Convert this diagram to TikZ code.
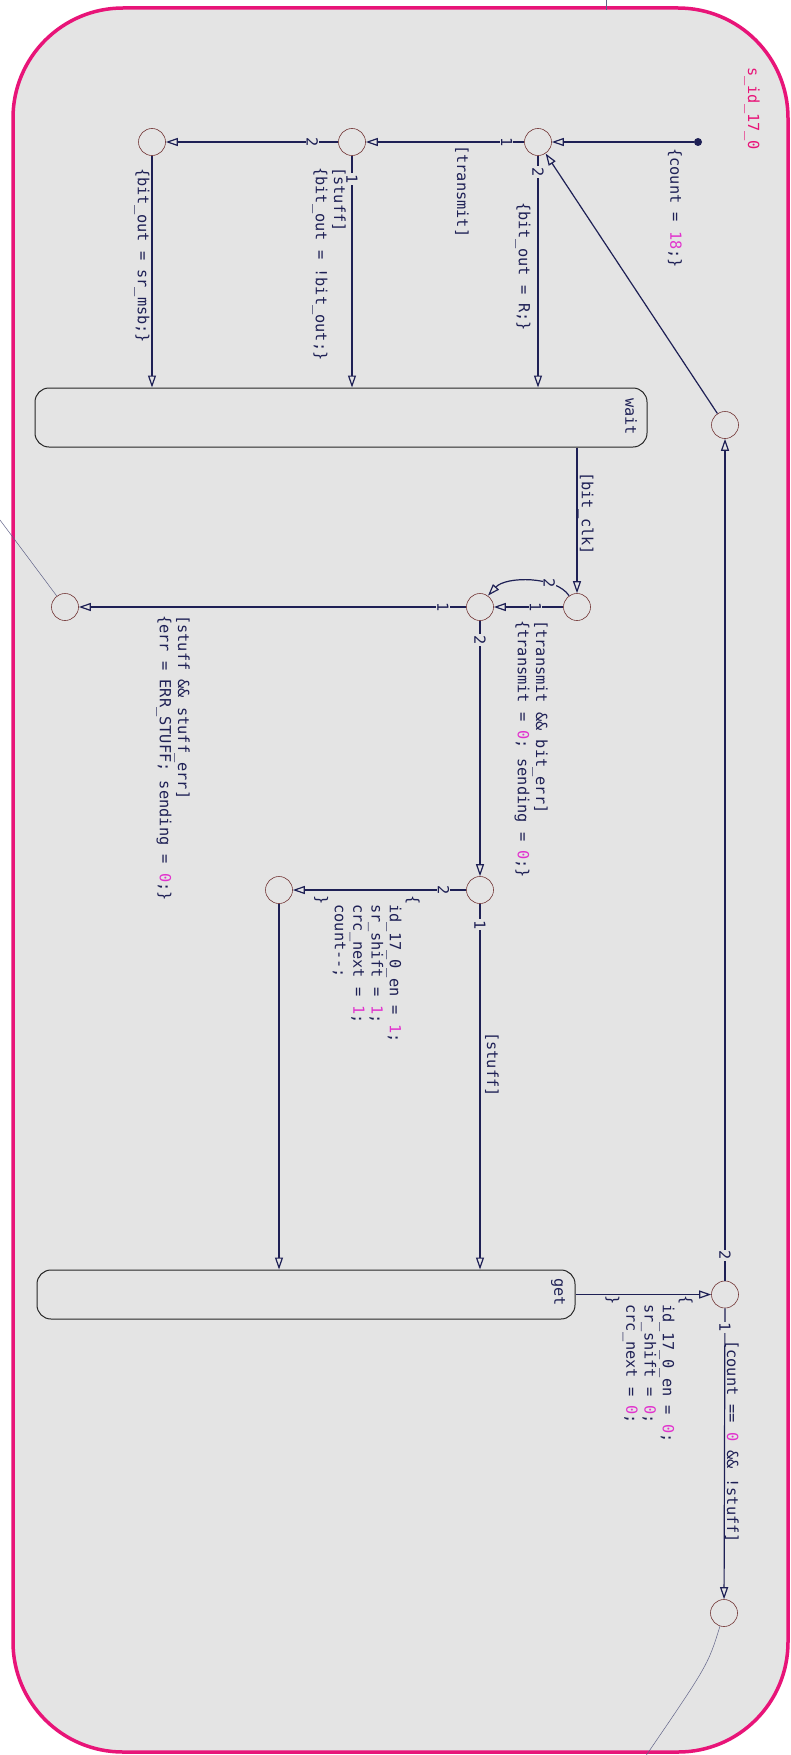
\documentclass[tikz,border=0pt]{standalone}
\usepackage{xcolor}
\usepackage{fontspec}
\usepackage{tikz}
\usetikzlibrary{arrows.meta}

\newfontfamily\chartfont{DejaVu Sans Mono}
\definecolor{chartbg}{RGB}{228,228,228}
\definecolor{chartpink}{RGB}{232,20,120}
\definecolor{numpink}{RGB}{225,50,205}
\definecolor{trcol}{RGB}{30,32,85}
\definecolor{juncol}{RGB}{115,55,55}
\newcommand{\pk}[1]{\textcolor{numpink}{#1}}

\begin{document}
\begin{tikzpicture}[x=1pt,y=-1pt,
    every node/.style={font=\chartfont\fontsize{15.3}{18.3}\selectfont},
    junc/.style={circle,draw=juncol,line width=0.6pt,fill=chartbg,minimum size=27pt,inner sep=0pt},
    state/.style={draw=black!85,line width=1pt,rounded corners=14pt,fill=chartbg},
    tr/.style={draw=trcol,line width=1.2pt,-{Triangle[open,length=12pt,width=8pt]}},
    extline/.style={draw=trcol!70,line width=0.5pt},
    lbl/.style={text=trcol,rotate=-90,anchor=west,inner sep=0pt},
    blk/.style={text=trcol,rotate=-90,anchor=north west,align=left,inner sep=0pt},
    ord/.style={text=trcol,rotate=-90,fill=chartbg,inner sep=1pt}]
    \useasboundingbox (0,0) rectangle (791,1755);
    \fill[white] (0,0) rectangle (791,1755);
    \draw[chartpink,line width=3.5pt,fill=chartbg,rounded corners=110pt] (13,8) rectangle (788,1752);
    \node[text=chartpink,rotate=-90,anchor=west,inner sep=0pt] (chartname) at (752,67) {s\_id\_17\_0};

    % states
    \node[state,minimum width=612pt,minimum height=59pt] (wait) at (341,417.5) {};
    \node[state,minimum width=538pt,minimum height=49pt] (get) at (306,1294.5) {};
    \node[lbl] (waitname) at (631,398) {wait};
    \node[lbl] (getname) at (558,1278) {get};

    % junctions
    \node[circle,fill=trcol,inner sep=0pt,minimum size=8pt] (init) at (698,142) {};
    \node[junc] (j1) at (538,142) {};
    \node[junc] (j2) at (352,142) {};
    \node[junc] (j3) at (152,142) {};
    \node[junc] (jw) at (577,607) {};
    \node[junc] (jt) at (480,607) {};
    \node[junc] (je) at (65,607) {};
    \node[junc] (js) at (480,890) {};
    \node[junc] (jc) at (279,890) {};
    \node[junc] (jr1) at (725,425) {};
    \node[junc] (jg) at (725,1294.5) {};
    \node[junc] (jb) at (724,1613) {};

    \coordinate (exitL) at (0,520);
    \coordinate (exitB) at (643,1760);
    \coordinate (entryT) at (606,-2);
    \coordinate (entryTe) at (606,10);

    % transitions
    \draw[tr] (init) -- (j1);
    \draw[tr] (j1) -- (j2) node[ord,pos=0.11] (j1o1) {1};
    \draw[tr] (j1) -- (j1 |- wait.north) node[ord,pos=0.07] (j1o2) {2};
    \draw[tr] (j2) -- (j3) node[ord,pos=0.15] (j2o2) {2};
    \draw[tr] (j2) -- (j2 |- wait.north) node[ord,pos=0.10] (j2o1) {1};
    \draw[tr] (j3) -- (j3 |- wait.north);
    \draw[tr] (jw |- wait.south) -- (jw);
    \draw[tr] (jw) -- (jt) node[ord,pos=0.4] (jwo1) {1};
    \draw[tr] (jw.125) .. controls (556,576) and (506,576) .. (jt.55) node[ord,pos=0.3] (jwo2) {2};
    \draw[tr] (jt) -- (je) node[ord,pos=0.06] (jto1) {1};
    \draw[tr] (jt) -- (js) node[ord,pos=0.075] (jto2) {2};
    \draw[tr] (js) -- (jc) node[ord,pos=0.13] (jso2) {2};
    \draw[tr] (js) -- (js |- get.north) node[ord,pos=0.057] (jso1) {1};
    \draw[tr] (jc) -- (jc |- get.north);
    \draw[tr] (get.east) -- (jg);
    \draw[tr] (jg) -- (jr1) node[ord,pos=0.03] (jgo2) {2};
    \draw[tr] (jr1) -- (j1);
    \draw[tr] (jg) -- (jb) node[ord,pos=0.065] (jgo1) {1};

    \draw[extline] (je) -- (exitL);
    \draw[extline] (jb) .. controls (708,1665) .. (exitB);
    \draw[extline] (entryT) -- (entryTe);

    % labels
    \node[lbl] (cntlbl) at (675,148) {\{count = \pk{18};\}};
    \node[lbl] (trlbl) at (462,145) {[transmit]};
    \node[lbl] (rlbl) at (523,202) {\{bit\_out = R;\}};
    \node[blk] (invlbl) at (346,167) {[stuff]\\\{bit\_out = !bit\_out;\}};
    \node[lbl] (msblbl) at (142,168) {\{bit\_out = sr\_msb;\}};
    \node[lbl] (clklbl) at (586,472) {[bit\_clk]};
    \node[blk] (biterr) at (548,620) {[transmit \&\& bit\_err]\\\{transmit = \pk{0}; sending = \pk{0};\}};
    \node[blk] (stufferr) at (190,615) {[stuff \&\& stuff\_err]\\\{err = ERR\_STUFF; sending = \pk{0};\}};
    \node[blk] (shiftblk) at (420,895) {\{\\\phantom{x}id\_17\_0\_en = \pk{1};\\\phantom{x}sr\_shift = \pk{1};\\\phantom{x}crc\_next = \pk{1};\\\phantom{x}count-{}-;\\\}};
    \node[lbl] (stufflbl) at (492,1032) {[stuff]};
    \node[blk] (resetblk) at (693,1295) {\{\\\phantom{x}id\_17\_0\_en = \pk{0};\\\phantom{x}sr\_shift = \pk{0};\\\phantom{x}crc\_next = \pk{0};\\\}};
    \node[lbl] (donelbl) at (732,1340) {[count == \pk{0} \&\& !stuff]};
\end{tikzpicture}
\end{document}
